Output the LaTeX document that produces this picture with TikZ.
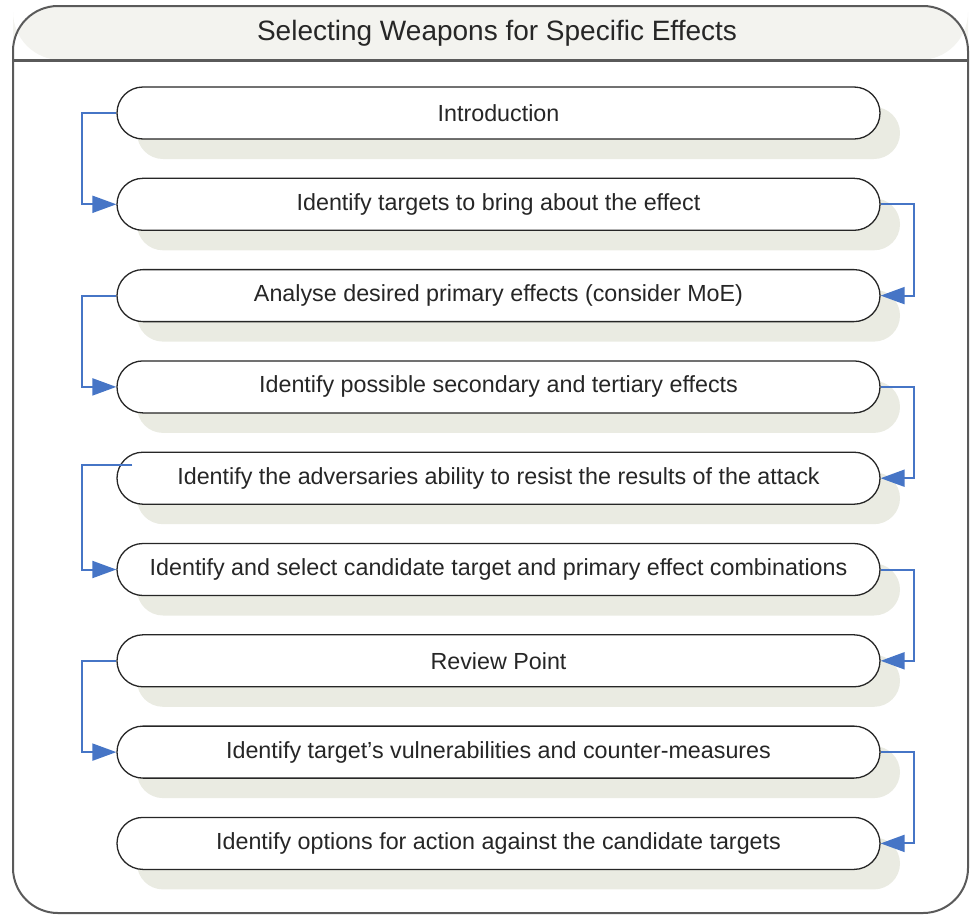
\documentclass[tikz,border=0pt]{standalone}
\usepackage{fontspec}
\setmainfont{Liberation Sans}
\usetikzlibrary{shadows,arrows.meta,calc}
\definecolor{framecol}{HTML}{5A5A5A}
\definecolor{headfill}{HTML}{F3F3EF}
\definecolor{shadowcol}{HTML}{EAEBE2}
\definecolor{flowblue}{HTML}{4675C6}
\definecolor{textcol}{HTML}{262626}
\begin{document}
\begin{tikzpicture}[x=1pt,y=-1pt,
  stepbox/.style={draw=black!85, line width=1.3pt, fill=white,
    rounded corners=26pt, minimum width=763pt, minimum height=52pt,
    inner sep=0pt, text=textcol,
    font=\fontsize{23.3}{27}\selectfont,
    drop shadow={shadow xshift=20pt, shadow yshift=-20pt, fill=shadowcol, opacity=1}},
  flow/.style={draw=flowblue, line width=2pt,
    -{Triangle[length=24pt,width=17pt]}}]
\useasboundingbox (0,0) rectangle (971,916);
% frame
\fill[headfill, rounded corners=48pt] (13,60) -- (13,6) -- (968,6) -- (968,60) -- cycle;
\draw[framecol, line width=2pt, rounded corners=45pt] (13,6) -- (968,6) -- (968,913) -- (13,913) -- cycle;
\draw[framecol, line width=3pt] (13,60) -- (968,60);
\node[text=textcol, font=\fontsize{28}{32}\selectfont] (title) at (497,33) {Selecting Weapons for Specific Effects};
% boxes
\node[stepbox] (b1) at (498.5,113) {Introduction};
\node[stepbox] (b2) at (498.5,204.3) {Identify targets to bring about the effect};
\node[stepbox] (b3) at (498.5,295.6) {Analyse desired primary effects (consider MoE)};
\node[stepbox] (b4) at (498.5,386.9) {Identify possible secondary and tertiary effects};
\node[stepbox] (b5) at (498.5,478.2) {Identify the adversaries ability to resist the results of the attack};
\node[stepbox] (b6) at (498.5,569.5) {Identify and select candidate target and primary effect combinations};
\node[stepbox] (b7) at (498.5,660.8) {Review Point};
\node[stepbox] (b8) at (498.5,752.1) {Identify target's vulnerabilities and counter-measures};
\node[stepbox] (b9) at (498.5,843.4) {Identify options for action against the candidate targets};
% connectors
\draw[flow] (b1.west) -- ++(-34,0) |- (b2.west);
\draw[flow] (b2.east) -- ++(33,0) |- (b3.east);
\draw[flow] (b3.west) -- ++(-34,0) |- (b4.west);
\draw[flow] (b4.east) -- ++(33,0) |- (b5.east);
\coordinate (s5) at ($(b5.west)+(16,-13)$);
\draw[flow] (s5) -- ++(-50,0) |- (b6.west);
\draw[flow] (b6.east) -- ++(33,0) |- (b7.east);
\draw[flow] (b7.west) -- ++(-34,0) |- (b8.west);
\draw[flow] (b8.east) -- ++(33,0) |- (b9.east);
\end{tikzpicture}
\end{document}
